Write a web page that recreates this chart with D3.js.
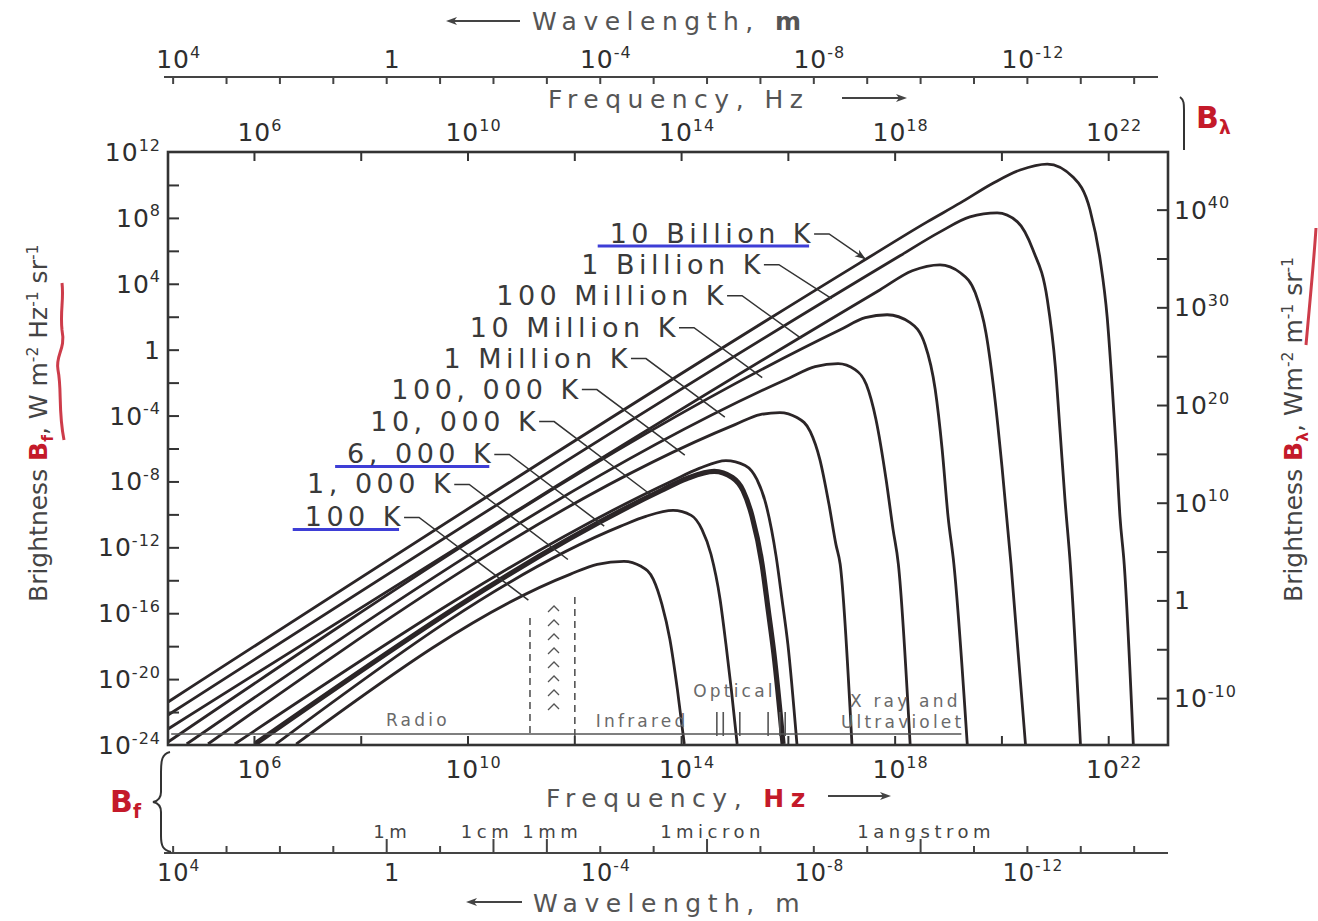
<!DOCTYPE html>
<html>
<head>
<meta charset="utf-8">
<script src="https://cdn.jsdelivr.net/npm/d3@7"></script>
<style>
  body { margin: 0; background: #fff; }
  text { font-family: "DejaVu Sans", sans-serif; }
</style>
</head>
<body>
<svg id="chart" width="1318" height="921"></svg>
<script>
// Blackbody curves: [log10 frequency (Hz), log10 brightness B_f]
var curve10B = [[4.39,-21.39],[17.35,5.27],[18.61,7.76],[19.23,8.91],[19.85,10.12],[20.35,10.91],[20.86,11.27],[21.34,10.48],[21.66,8.48],[21.85,5.45],[21.98,2.0],[22.07,-2.0],[22.15,-6.06],[22.22,-10.12],[22.30,-13.03],[22.47,-23.94]]
var curve1B = [[4.39,-22.18],[18.10,5.70],[18.85,7.15],[19.41,8.06],[19.92,8.30],[20.30,7.76],[20.59,6.06],[20.86,3.03],[21.01,-1.03],[21.10,-5.03],[21.19,-9.09],[21.29,-13.03],[21.48,-23.94]]
var curve100M = [[4.39,-23.03],[17.73,3.64],[18.33,4.79],[18.85,5.15],[19.23,4.67],[19.51,3.45],[19.71,1.03],[19.88,-3.03],[20.01,-7.09],[20.18,-13.03],[20.45,-23.94]]
var curve10M = [[4.39,-23.82],[16.98,1.21],[17.45,1.94],[17.86,2.12],[18.29,1.64],[18.57,0.30],[18.76,-2.42],[18.89,-6.06],[19.00,-10.12],[19.11,-13.03],[19.36,-23.94]]
var curve1M = [[4.74,-23.94],[16.04,-1.70],[16.51,-1.03],[16.94,-0.85],[17.26,-1.21],[17.47,-2.12],[17.65,-4.24],[17.84,-7.88],[17.97,-10.91],[18.07,-13.03],[18.29,-23.94]]
var curve100k = [[5.14,-23.94],[15.01,-4.55],[15.48,-3.94],[15.85,-3.82],[16.17,-4.12],[16.42,-4.97],[16.60,-6.67],[16.77,-9.39],[16.90,-11.82],[16.98,-13.03],[17.20,-23.94]]
var curve10k = [[5.64,-23.94],[13.85,-7.94],[14.34,-7.21],[14.84,-6.73],[15.20,-7.03],[15.42,-7.88],[15.59,-9.39],[15.78,-12.55],[15.89,-15.15],[16.00,-17.88],[16.17,-23.94]]
var curve6k = [[6.02,-23.94],[13.63,-8.55],[14.11,-7.82],[14.62,-7.39],[14.96,-7.76],[15.16,-8.55],[15.33,-10.12],[15.52,-13.09],[15.63,-15.76],[15.74,-18.48],[15.91,-23.94]]
var curve1k = [[6.41,-23.94],[12.86,-10.73],[13.34,-10.12],[13.85,-9.76],[14.19,-10.06],[14.39,-10.91],[14.56,-12.42],[14.73,-15.15],[14.84,-17.88],[14.94,-20.61],[15.05,-23.94]]
var curve100K = [[6.79,-23.94],[11.92,-13.64],[12.43,-13.03],[12.93,-12.85],[13.25,-13.15],[13.48,-13.94],[13.64,-15.45],[13.79,-17.58],[13.93,-20.61],[14.06,-23.94]]

var curveNames = ["10 Billion K", "1 Billion K", "100 Million K", "10 Million K", "1 Million K",
                  "100, 000 K", "10, 000 K", "6, 000 K", "1, 000 K", "100 K"]
var curves = [curve10B, curve1B, curve100M, curve10M, curve1M, curve100k, curve10k, curve6k, curve1k, curve100K]

// where each name sits (end of text) and where its pointer touches the curve, log units
var labelAnchor = [[16.51,6.48],[15.57,4.61],[14.88,2.73],[13.98,0.79],[13.08,-1.09],
                   [12.16,-2.97],[11.36,-4.91],[10.52,-6.91],[9.77,-8.73],[8.83,-10.73]]
var pointerAt = [17.46, 16.82, 16.25, 15.52, 14.82, 14.07, 13.42, 12.56, 11.88, 11.14]
var underlined = ["10 Billion K", "6, 000 K", "100 K"]

// tick labels (exponents of ten)
var freqLabels = [6, 10, 14, 18, 22]
var freqTicks = [6, 8, 10, 12, 14, 16, 18, 20, 22]
var wavelengthLabels = [4, 0, -4, -8, -12]
var wavelengthTicks = [4, 3, 2, 1, 0, -1, -2, -3, -4, -5, -6, -7, -8, -9, -10, -11, -12, -13, -14]
var brightLabels = [12, 8, 4, 0, -4, -8, -12, -16, -20, -24]
var brightTicks = [10, 8, 6, 4, 2, 0, -2, -4, -6, -8, -10, -12, -14, -16, -18, -20, -22]
var lambdaLabels = [40, 30, 20, 10, 0, -10]
var lambdaTicks = [40, 35, 30, 25, 20, 15, 10, 5, 0, -5, -10]
var namedWavelengths = [["1m", 0], ["1cm", -2], ["1mm", -3], ["1micron", -6], ["1angstrom", -10]]

// spectral regions along the bottom
var bandNames = ["Radio", "Infrared", "Optical", "X ray and", "Ultraviolet"]
var bandCenters = [9.07, 13.27, 15.0, 18.2, 18.15]
var bandDashed = [11.17, 12.01]
var bandBars = [14.67, 14.79, 15.10, 15.63, 15.85, 15.95]

var svg = d3.select("#chart")
var plot = {left: 168, right: 1168, top: 152, bottom: 745}
var ink = "#2b2527"
var red = "#c41a2a"
var cLight = 2.998e8

var x = d3.scaleLog().domain([Math.pow(10, 4.39), Math.pow(10, 23.12)]).range([plot.left, plot.right])
var yB = d3.scaleLog().domain([1e-24, 1e12]).range([plot.bottom, plot.top])
var yL = d3.scaleLog().domain([Math.pow(10, -14.8), Math.pow(10, 45.9)]).range([plot.bottom, plot.top])
var lam = d3.scaleLog().domain([cLight / Math.pow(10, 4.39), cLight / Math.pow(10, 23.12)]).range([plot.left, plot.right])

function p10(e) { return Math.pow(10, e) }

// "10" with a raised exponent
function powLabel(g, px, py, exp, anchor, size) {
  var t = g.append("text").attr("x", px).attr("y", py).attr("text-anchor", anchor)
    .attr("font-family", "DejaVu Serif").attr("font-size", size).attr("fill", "#2e2e2e")
    .attr("letter-spacing", 1)
  if (exp === 0) { t.text("1"); return t }
  t.append("tspan").text("10")
  t.append("tspan").attr("dy", -size * 0.42).attr("font-size", size * 0.64).text(exp < 0 ? "-" + (-exp) : exp)
  return t
}

// text made of pieces, some raised or lowered
function richText(g, pieces, attrs) {
  var t = g.append("text")
  Object.keys(attrs).forEach(function(k) { t.attr(k, attrs[k]) })
  var shift = 0
  pieces.forEach(function(p) {
    var target = p.sup ? -9 : (p.sub ? 6 : 0)
    var s = t.append("tspan").text(p.t).attr("dy", target - shift)
    shift = target
    if (p.sup || p.sub) s.attr("font-size", "62%")
    if (p.fill) s.attr("fill", p.fill)
    if (p.bold) s.attr("font-weight", "bold")
  })
  return t
}

function arrowHead(g, tipX, tipY, dir) {
  g.append("path")
    .attr("d", "M" + tipX + "," + tipY + " l" + (-11 * dir) + ",-4 l" + (3 * dir) + ",4 l" + (-3 * dir) + ",4 Z")
    .attr("fill", "#444")
}

// ---- curves ----
svg.append("clipPath").attr("id", "plotClip").append("rect")
  .attr("x", plot.left).attr("y", plot.top)
  .attr("width", plot.right - plot.left).attr("height", plot.bottom - plot.top)

var line = d3.line()
  .x(function(d) { return x(p10(d[0])) })
  .y(function(d) { return yB(p10(d[1])) })
  .curve(d3.curveMonotoneX)

svg.append("g").attr("clip-path", "url(#plotClip)")
  .selectAll("path").data(curves).enter().append("path")
  .attr("d", line)
  .attr("fill", "none")
  .attr("stroke", ink)
  .attr("stroke-width", function(d, i) { return curveNames[i] === "6, 000 K" ? 5.2 : 2.8 })
  .attr("stroke-linejoin", "round")

// ---- spectral region marks ----
var bands = svg.append("g").attr("stroke", "#555").attr("fill", "none")
bands.append("line").attr("x1", x(p10(4.45))).attr("x2", x(p10(19.25)))
  .attr("y1", 734).attr("y2", 734).attr("stroke-width", 1.3)
bands.selectAll(".dash").data(bandDashed).enter().append("line")
  .attr("x1", function(d) { return x(p10(d)) }).attr("x2", function(d) { return x(p10(d)) })
  .attr("y1", function(d, i) { return i === 0 ? 618 : 597 }).attr("y2", 736)
  .attr("stroke-width", 1.6).attr("stroke-dasharray", "7,5")
var zx = x(p10(11.62))
d3.range(606, 706, 14).forEach(function(yy) {
  bands.append("path").attr("d", "M" + (zx - 6) + "," + (yy + 6) + " L" + zx + "," + yy + " L" + (zx + 5) + "," + (yy + 5))
    .attr("stroke-width", 1.3)
})
bands.selectAll(".bar").data(bandBars).enter().append("line")
  .attr("x1", function(d) { return x(p10(d)) }).attr("x2", function(d) { return x(p10(d)) })
  .attr("y1", 712).attr("y2", 736).attr("stroke-width", 1.6)
var bandY = [726, 727, 697, 707, 728]
svg.append("g").selectAll("text").data(bandNames).enter().append("text")
  .attr("x", function(d, i) { return x(p10(bandCenters[i])) })
  .attr("y", function(d, i) { return bandY[i] })
  .attr("text-anchor", "middle").attr("font-size", 17).attr("letter-spacing", 3.2)
  .attr("fill", "#6a6a6a").text(function(d) { return d })

// ---- frame and inner ticks ----
svg.append("rect").attr("x", plot.left).attr("y", plot.top)
  .attr("width", plot.right - plot.left).attr("height", plot.bottom - plot.top)
  .attr("fill", "none").attr("stroke", "#333").attr("stroke-width", 2.6)

function styleAxis(g, w) {
  g.select(".domain").remove()
  g.selectAll(".tick line").attr("stroke", "#333").attr("stroke-width", w)
}

svg.append("g").attr("transform", "translate(0," + plot.top + ")")
  .call(d3.axisBottom(x).tickValues(freqTicks.map(p10)).tickSize(9).tickFormat(""))
  .call(styleAxis, 2)
svg.append("g").attr("transform", "translate(0," + plot.bottom + ")")
  .call(d3.axisTop(x).tickValues(freqTicks.map(p10)).tickSize(9).tickFormat(""))
  .call(styleAxis, 2)
svg.append("g").attr("transform", "translate(" + plot.left + ",0)")
  .call(d3.axisRight(yB).tickValues(brightTicks.map(p10)).tickSize(11).tickFormat(""))
  .call(styleAxis, 2)
svg.append("g").attr("transform", "translate(" + plot.right + ",0)")
  .call(d3.axisLeft(yL).tickValues(lambdaTicks.map(p10)).tickSize(11).tickFormat(""))
  .call(styleAxis, 2)

// ---- tick labels around the frame ----
var labels = svg.append("g")
brightLabels.forEach(function(e) { powLabel(labels, 161, yB(p10(e)) + 9, e, "end", 25) })
lambdaLabels.forEach(function(e) { powLabel(labels, 1174, yL(p10(e)) + 9, e, "start", 25) })
freqLabels.forEach(function(e) {
  powLabel(labels, x(p10(e)) + 6, 141, e, "middle", 25)
  powLabel(labels, x(p10(e)) + 6, 778, e, "middle", 25)
})

// ---- wavelength axes (top and bottom) ----
var lamTop = svg.append("g").attr("transform", "translate(0,77)")
  .call(d3.axisBottom(lam).tickValues(wavelengthTicks.map(p10)).tickSize(7).tickSizeOuter(0).tickFormat(""))
lamTop.select(".domain").attr("stroke", "#444").attr("stroke-width", 2)
  .attr("d", "M" + (plot.left - 4) + ",0H" + (plot.right - 10))
lamTop.selectAll(".tick line").attr("stroke", "#444").attr("stroke-width", 2)

var lamBottom = svg.append("g").attr("transform", "translate(0,853)")
  .call(d3.axisTop(lam).tickValues(wavelengthTicks.map(p10)).tickSize(7).tickSizeOuter(0).tickFormat(""))
lamBottom.select(".domain").attr("stroke", "#444").attr("stroke-width", 2)
  .attr("d", "M" + (plot.left - 4) + ",0H" + plot.right)
lamBottom.selectAll(".tick line").attr("stroke", "#444").attr("stroke-width", 2)
  .attr("y2", function(d) {
    var e = Math.round(Math.log10(d))
    return namedWavelengths.some(function(n) { return n[1] === e }) ? -14 : -7
  })

wavelengthLabels.forEach(function(e) {
  powLabel(labels, lam(p10(e)) + 6, 68, e, "middle", 25)
  powLabel(labels, lam(p10(e)) + 6, 881, e, "middle", 24)
})
svg.append("g").selectAll("text").data(namedWavelengths).enter().append("text")
  .attr("x", function(d) { return lam(p10(d[1])) + (d[0] === "1cm" ? -6 : 6) })
  .attr("y", 838).attr("text-anchor", "middle")
  .attr("font-size", 18).attr("letter-spacing", 4.5).attr("fill", "#444")
  .text(function(d) { return d[0] })

// ---- axis titles ----
var titles = svg.append("g")
var titleStyle = {"font-size": 25, "letter-spacing": 6.5, fill: "#555"}
richText(titles, [{t: "Wavelength,"}, {t: "  m", bold: true}], Object.assign({x: 532, y: 30}, titleStyle))
richText(titles, [{t: "Frequency,"}, {t: "  Hz"}], Object.assign({x: 548, y: 108, "letter-spacing": 7}, titleStyle))
richText(titles, [{t: "Frequency,"}, {t: "  Hz", fill: red, bold: true}], Object.assign({x: 546, y: 807, "letter-spacing": 7}, titleStyle))
richText(titles, [{t: "Wavelength,"}, {t: "  m"}], Object.assign({x: 533, y: 912}, titleStyle))

var arrows = svg.append("g").attr("stroke", "#444").attr("stroke-width", 2)
arrows.append("line").attr("x1", 520).attr("x2", 450).attr("y1", 21).attr("y2", 21)
arrowHead(svg, 446, 21, -1)
arrows.append("line").attr("x1", 842).attr("x2", 902).attr("y1", 98).attr("y2", 98)
arrowHead(svg, 907, 98, 1)
arrows.append("line").attr("x1", 828).attr("x2", 886).attr("y1", 796).attr("y2", 796)
arrowHead(svg, 891, 796, 1)
arrows.append("line").attr("x1", 522).attr("x2", 472).attr("y1", 902).attr("y2", 902)
arrowHead(svg, 466, 902, -1)

richText(titles, [{t: "Brightness "}, {t: "B", fill: red, bold: true}, {t: "f", fill: red, bold: true, sub: true},
                  {t: ", W m"}, {t: "-2", sup: true}, {t: " Hz"}, {t: "-1", sup: true}, {t: " sr"}, {t: "-1", sup: true}],
  {transform: "translate(47,602) rotate(-90)", "font-family": "DejaVu Sans Condensed", "font-size": 25, fill: "#444"})
richText(titles, [{t: "Brightness "}, {t: "B", fill: red, bold: true}, {t: "λ", fill: red, bold: true, sub: true},
                  {t: ", Wm"}, {t: "-2", sup: true}, {t: " m"}, {t: "-1", sup: true}, {t: " sr"}, {t: "-1", sup: true}],
  {transform: "translate(1302,602) rotate(-90)", "font-family": "DejaVu Sans Condensed", "font-size": 25, fill: "#444"})

// ---- handwritten marks ----
var marks = svg.append("g").attr("fill", "none")
marks.append("path").attr("d", "M64,440 C58,410 62,390 58,370 C55,355 66,350 62,330 C60,310 64,300 62,283")
  .attr("stroke", red).attr("stroke-width", 3).attr("opacity", 0.85)
marks.append("path").attr("d", "M1316,228 C1314,260 1310,300 1306,345")
  .attr("stroke", red).attr("stroke-width", 3).attr("opacity", 0.85)
marks.append("path").attr("d", "M170,752 C162,754 161,760 161,772 L161,792 C161,798 158,801 153,802 C158,803 161,806 161,812 L161,836 C161,846 163,850 171,852")
  .attr("stroke", "#333").attr("stroke-width", 2)
marks.append("path").attr("d", "M1180,97 C1184,100 1184,104 1184,110 L1184,150")
  .attr("stroke", "#333").attr("stroke-width", 2)
richText(titles, [{t: "B", bold: true}, {t: "f", bold: true, sub: true}],
  {x: 110, y: 812, "font-family": "DejaVu Serif", "font-size": 30, fill: red})
richText(titles, [{t: "B", bold: true}, {t: "λ", bold: true, sub: true}],
  {x: 1196, y: 128, "font-family": "DejaVu Serif", "font-size": 30, fill: red})

// ---- curve names with pointers ----
function curveYAt(curve, lx) {
  for (var i = 0; i < curve.length - 1; i++) {
    var a = curve[i], b = curve[i + 1]
    if (lx >= a[0] && lx <= b[0]) return a[1] + (b[1] - a[1]) * (lx - a[0]) / (b[0] - a[0])
  }
  return curve[0][1]
}

var names = svg.append("g")
curveNames.forEach(function(name, i) {
  var ex = x(p10(labelAnchor[i][0])), by = yB(p10(labelAnchor[i][1]))
  var t = names.append("text").attr("x", ex).attr("y", by).attr("text-anchor", "end")
    .attr("font-size", 27).attr("letter-spacing", 4.5).attr("fill", "#3a3a3a").text(name)
  var tx = x(p10(pointerAt[i])), ty = yB(p10(curveYAt(curves[i], pointerAt[i])))
  names.append("path")
    .attr("d", "M" + (ex - 1) + "," + (by - 9) + " L" + (ex + 14) + "," + (by - 9) + " L" + tx + "," + ty)
    .attr("fill", "none").attr("stroke", "#333").attr("stroke-width", 1.5)
  if (i === 0) {
    var ang = Math.atan2(ty - (by - 9), tx - (ex + 14)) * 180 / Math.PI
    names.append("path").attr("d", "M0,0 l-11,-4 l3,4 l-3,4 Z").attr("fill", "#333")
      .attr("transform", "translate(" + tx + "," + ty + ") rotate(" + ang + ")")
  }
  if (underlined.indexOf(name) >= 0) {
    var bb = t.node().getBBox()
    names.append("line").attr("x1", bb.x - 12).attr("x2", bb.x + bb.width - 6)
      .attr("y1", by + 3).attr("y2", by + 3)
      .attr("stroke", "#2a2ad2").attr("stroke-width", 3).attr("opacity", 0.9)
  }
})
</script>
</body>
</html>
